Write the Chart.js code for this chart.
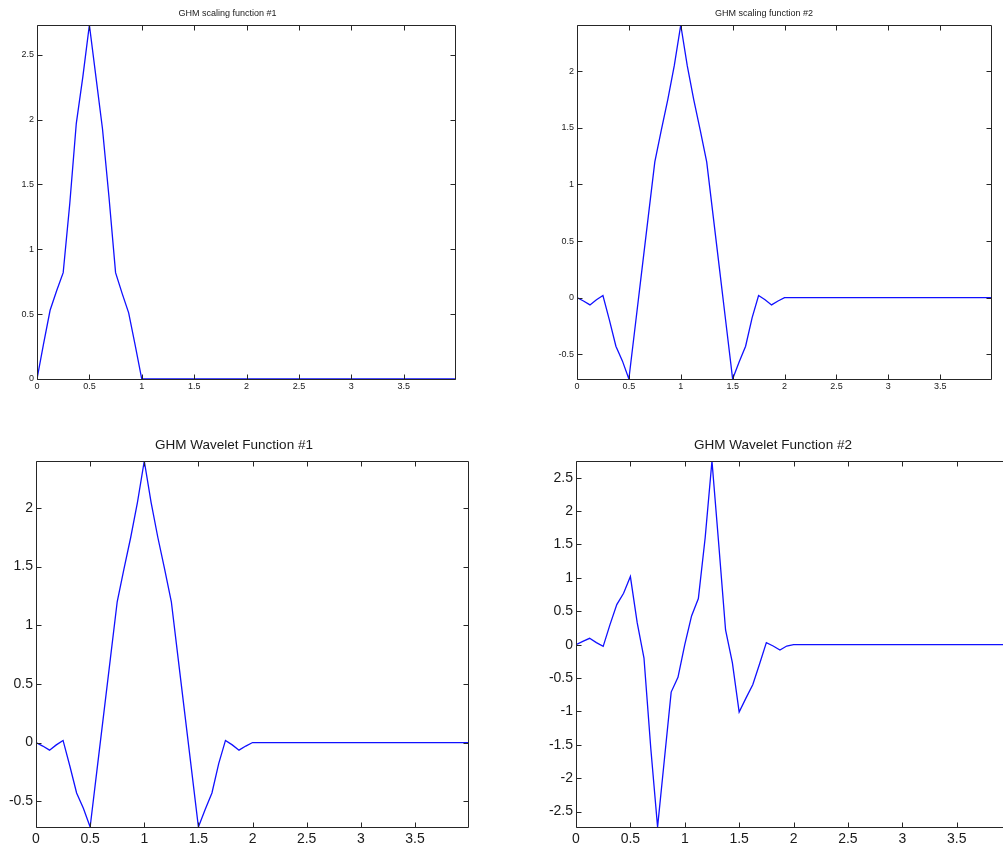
<!DOCTYPE html>
<html>
<head>
<meta charset="utf-8">
<script src="https://cdn.jsdelivr.net/npm/chart.js@4"></script>
<style>
  html, body { margin: 0; padding: 0; background: #ffffff; overflow: hidden; width: 1003px; height: 848px; }
  canvas { position: absolute; }
</style>
</head>
<body>
<canvas id="c1" style="left:0px;top:0px;" width="457" height="399"></canvas>
<canvas id="c2" style="left:537px;top:0px;" width="456" height="399"></canvas>
<canvas id="c3" style="left:0px;top:420px;" width="470" height="428"></canvas>
<canvas id="c4" style="left:536px;top:420px;" width="476" height="428"></canvas>
<script>
// ---- data ----
const xValues = [0, 0.0625, 0.125, 0.1875, 0.25, 0.3125, 0.375, 0.4375, 0.5, 0.5625, 0.625, 0.6875,
  0.75, 0.8125, 0.875, 0.9375, 1, 1.0625, 1.125, 1.1875, 1.25, 1.3125, 1.375, 1.4375, 1.5, 1.5625,
  1.625, 1.6875, 1.75, 1.8125, 1.875, 1.9375, 2, 3.99];

const scaling1 = [0, 0.27, 0.53, 0.68, 0.82, 1.35, 1.97, 2.33, 2.73, 2.33, 1.93, 1.40, 0.82, 0.66,
  0.51, 0.26, 0, 0, 0, 0, 0, 0, 0, 0, 0, 0, 0, 0, 0, 0, 0, 0, 0, 0];

const scaling2 = [0, -0.03, -0.065, -0.02, 0.018, -0.2, -0.43, -0.56, -0.72, -0.24, 0.24, 0.72,
  1.2, 1.48, 1.75, 2.05, 2.41, 2.05, 1.75, 1.48, 1.2, 0.72, 0.24, -0.24, -0.72, -0.57,
  -0.43, -0.18, 0.018, -0.02, -0.065, -0.03, 0, 0];

const wavelet1 = [0, -0.03, -0.065, -0.02, 0.018, -0.2, -0.43, -0.56, -0.72, -0.24, 0.24, 0.72,
  1.2, 1.48, 1.75, 2.05, 2.40, 2.05, 1.75, 1.48, 1.2, 0.72, 0.24, -0.24, -0.72, -0.57,
  -0.43, -0.18, 0.018, -0.02, -0.065, -0.03, 0, 0];

const wavelet2 = [0, 0.05, 0.095, 0.03, -0.025, 0.3, 0.6, 0.77, 1.02, 0.33, -0.2, -1.55,
  -2.73, -1.72, -0.71, -0.49, 0.0, 0.43, 0.69, 1.6, 2.75, 1.5, 0.22, -0.27, -1.01, -0.8,
  -0.6, -0.29, 0.03, -0.02, -0.08, -0.02, 0, 0];

const xTicks = [0, 0.5, 1, 1.5, 2, 2.5, 3, 3.5];
const yTicks1 = [0, 0.5, 1, 1.5, 2, 2.5];
const yTicks2 = [-0.5, 0, 0.5, 1, 1.5, 2];
const yTicks3 = [-0.5, 0, 0.5, 1, 1.5, 2];
const yTicks4 = [-2.5, -2, -1.5, -1, -0.5, 0, 0.5, 1, 1.5, 2, 2.5];

const titles = ['GHM scaling function #1', 'GHM scaling function #2',
  'GHM Wavelet Function #1', 'GHM Wavelet Function #2'];

// ---- frame plugin: MATLAB-style box with inward ticks on all sides ----
const framePlugin = {
  id: 'frame',
  afterDatasetsDraw(chart, args, opts) {
    const { ctx, chartArea } = chart;
    const { left, top, right, bottom } = chartArea;
    const xs = chart.scales.x, ys = chart.scales.y;
    const len = opts.len || 5;
    const r = v => Math.round(v) + 0.5;
    ctx.save();
    ctx.strokeStyle = '#262626';
    ctx.lineWidth = 1;
    ctx.beginPath();
    ctx.rect(r(left), r(top), Math.round(right) - Math.round(left), Math.round(bottom) - Math.round(top));
    xs.ticks.forEach(t => {
      const px = r(xs.getPixelForValue(t.value));
      ctx.moveTo(px, r(bottom)); ctx.lineTo(px, r(bottom) - len);
      ctx.moveTo(px, r(top)); ctx.lineTo(px, r(top) + len);
    });
    ys.ticks.forEach(t => {
      const py = r(ys.getPixelForValue(t.value));
      ctx.moveTo(r(left), py); ctx.lineTo(r(left) + len, py);
      ctx.moveTo(r(right), py); ctx.lineTo(r(right) - len, py);
    });
    ctx.stroke();
    ctx.restore();
  }
};

function makeChart(id, series, yTicks, ymin, ymax, cfg) {
  const pts = xValues.map((x, i) => ({ x: x, y: series[i] }));
  return new Chart(document.getElementById(id), {
    type: 'line',
    data: { datasets: [{ data: pts, borderColor: '#1010ff', borderWidth: 1.3, pointRadius: 0,
      tension: 0, fill: false }] },
    options: {
      responsive: false,
      animation: false,
      events: [],
      layout: { padding: { left: 0, right: 2, top: 0, bottom: 0 } },
      plugins: {
        legend: { display: false },
        tooltip: { enabled: false },
        title: {
          display: true, text: cfg.title, color: '#1a1a1a',
          font: { family: "'Liberation Sans', Arial, sans-serif", size: cfg.titleSize, weight: 'normal' },
          padding: { top: cfg.titleTop, bottom: cfg.titleBottom }
        },
        frame: { len: 5 }
      },
      scales: {
        x: {
          type: 'linear', min: 0, max: 3.99,
          grid: { display: false, drawTicks: false },
          border: { display: false },
          ticks: { color: '#1a1a1a', padding: cfg.xPad, maxRotation: 0,
            font: { family: "'Liberation Sans', Arial, sans-serif", size: cfg.tickSize },
            callback: v => String(v) },
          afterBuildTicks: s => { s.ticks = xTicks.map(v => ({ value: v })); },
          afterFit: s => { s.height = cfg.xH; }
        },
        y: {
          type: 'linear', min: ymin, max: ymax,
          grid: { display: false, drawTicks: false },
          border: { display: false },
          ticks: { color: '#1a1a1a', padding: 3,
            font: { family: "'Liberation Sans', Arial, sans-serif", size: cfg.tickSize },
            callback: v => String(v) },
          afterBuildTicks: s => { s.ticks = yTicks.map(v => ({ value: v })); },
          afterFit: s => { s.width = cfg.yW; }
        }
      }
    },
    plugins: [framePlugin]
  });
}

const topCfg = { titleSize: 9, titleTop: 8.6, titleBottom: 5.6, tickSize: 9, xPad: 2.6, xH: 20 };
const botCfg = { titleSize: 13.5, titleTop: 16.9, titleBottom: 7.9, tickSize: 14, xPad: 3.6, xH: 21 };

makeChart('c1', scaling1, yTicks1, 0, 2.73, Object.assign({}, topCfg, { title: titles[0], yW: 37 }));
makeChart('c2', scaling2, yTicks2, -0.72, 2.41, Object.assign({}, topCfg, { title: titles[1], yW: 40 }));
makeChart('c3', wavelet1, yTicks3, -0.72, 2.40, Object.assign({}, botCfg, { title: titles[2], yW: 36 }));
makeChart('c4', wavelet2, yTicks4, -2.73, 2.75, Object.assign({}, botCfg, { title: titles[3], yW: 40 }));
</script>
</body>
</html>
